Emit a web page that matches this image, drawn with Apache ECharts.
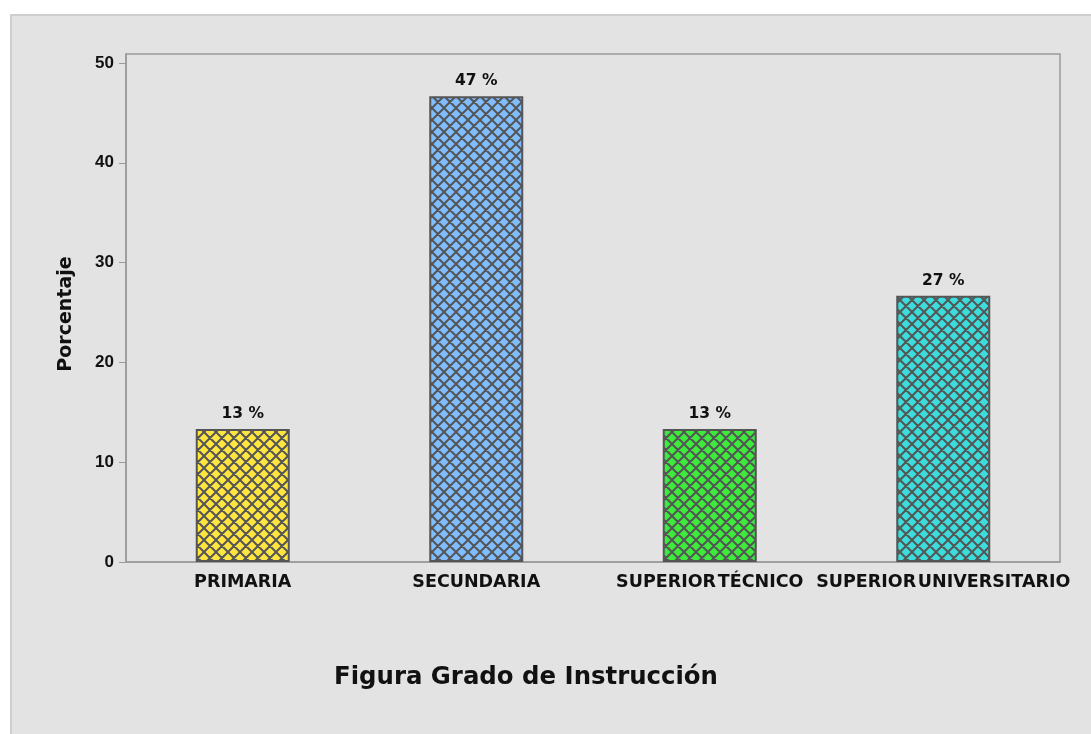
<!DOCTYPE html>
<html>
<head>
<meta charset="utf-8">
<script src="https://cdn.jsdelivr.net/npm/echarts@6/dist/echarts.min.js"></script>
<style>
  html, body { margin: 0; padding: 0; background: #fff; }
  #frame {
    position: absolute; left: 10px; top: 14px; width: 1090px; height: 730px;
    background: #e3e3e3; border-left: 2px solid #cfcfcf; border-top: 2px solid #cfcfcf;
  }
  #chart { position: absolute; left: 0; top: 0; width: 1091px; height: 734px; }
</style>
</head>
<body>
<div id="frame"></div>
<div id="chart"></div>
<script>
const categories = ['PRIMARIA', 'SECUNDARIA', 'SUPERIOR TÉCNICO', 'SUPERIOR UNIVERSITARIO'];
const values = [13.33, 46.67, 13.33, 26.67];
const pctLabels = ['13 %', '47 %', '13 %', '27 %'];
const barColors = ['#ffe540', '#80bdfe', '#3ceb3c', '#3cdcdc'];
const yTicks = [0, 10, 20, 30, 40, 50];

// crosshatch fill for the bars
function hatch(color) {
  const c = document.createElement('canvas');
  c.width = 12; c.height = 12;
  const ctx = c.getContext('2d');
  ctx.fillStyle = color;
  ctx.fillRect(0, 0, 12, 12);
  ctx.strokeStyle = '#555';
  ctx.lineWidth = 2;
  ctx.beginPath();
  for (let o = -12; o <= 12; o += 12) {
    ctx.moveTo(o, 0); ctx.lineTo(o + 12, 12);
    ctx.moveTo(o + 12, 0); ctx.lineTo(o, 12);
  }
  ctx.stroke();
  return c;
}

const chart = echarts.init(document.getElementById('chart'));
const wide = '"DejaVu Sans", sans-serif';
const arial = '"Liberation Sans", Arial, sans-serif';

chart.setOption({
  backgroundColor: 'transparent',
  animation: false,
  title: {
    text: 'Figura Grado de Instrucción',
    left: 521, top: 661, textAlign: 'center',
    textStyle: { fontFamily: wide, fontSize: 24.4, fontWeight: 'bold', color: '#111' }
  },
  grid: {
    left: 126, right: 31, top: 54, bottom: 172,
    show: true, borderColor: '#9a9a9a', borderWidth: 1.5, backgroundColor: 'transparent'
  },
  xAxis: {
    type: 'category',
    data: categories,
    axisLine: { lineStyle: { color: '#9a9a9a', width: 1.5 } },
    axisTick: { alignWithLabel: true, length: 7, lineStyle: { color: '#9a9a9a' } },
    axisLabel: {
      interval: 0, margin: 11,
      fontFamily: wide, fontSize: 17.5, fontWeight: 'bold', color: '#111',
      formatter: v => v.replace('SUPERIOR ', 'SUPERIOR\u200A')
    }
  },
  yAxis: {
    type: 'value',
    min: 0, max: 50.9,
    name: 'Porcentaje',
    nameLocation: 'middle', nameGap: 50, nameRotate: 90,
    nameTextStyle: { fontFamily: wide, fontSize: 19, fontWeight: 'bold', color: '#111', padding: [0, 0, 0, -12] },
    axisLine: { show: true, lineStyle: { color: '#9a9a9a', width: 1.5 } },
    axisTick: { show: true, length: 7, customValues: yTicks, lineStyle: { color: '#9a9a9a' } },
    axisLabel: {
      customValues: yTicks, margin: 12,
      fontFamily: arial, fontSize: 17, fontWeight: 'bold', color: '#111'
    },
    splitLine: { show: false }
  },
  series: [{
    type: 'bar',
    barWidth: 94,
    data: values.map((v, i) => ({
      value: v,
      itemStyle: { color: { image: hatch(barColors[i]), repeat: 'repeat' } },
      label: { formatter: pctLabels[i] }
    })),
    itemStyle: { borderColor: '#555', borderWidth: 2 },
    label: {
      show: true, position: 'top', distance: 7,
      fontFamily: wide, fontSize: 15.5, fontWeight: 'bold', color: '#111'
    }
  }]
});
</script>
</body>
</html>
